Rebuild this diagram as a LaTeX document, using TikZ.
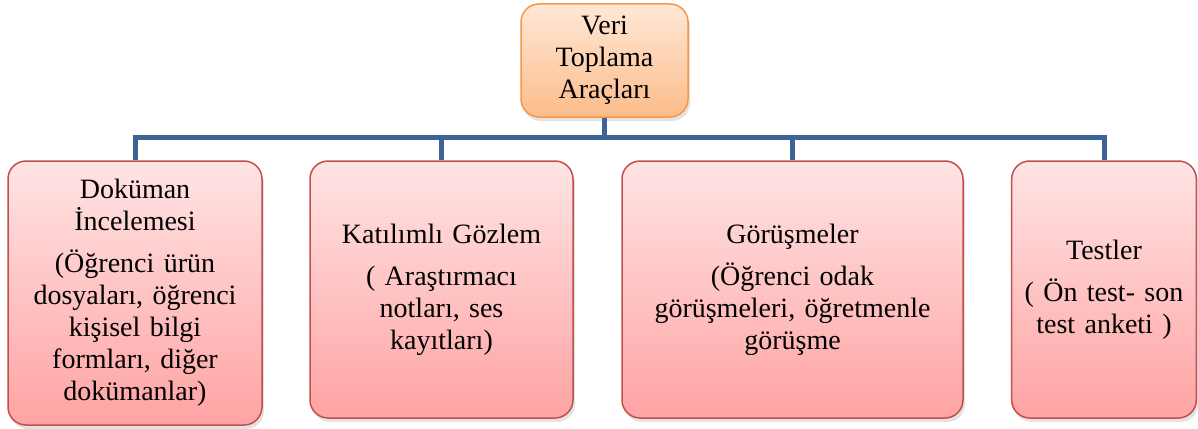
\documentclass[tikz,border=0pt]{standalone}
\usepackage{fontspec}
\setmainfont{Liberation Serif}
\usetikzlibrary{shadows}
\definecolor{linkblue}{RGB}{62,99,150}
\definecolor{orangeedge}{RGB}{247,150,70}
\definecolor{orangetop}{RGB}{255,232,214}
\definecolor{orangebot}{RGB}{252,188,138}
\definecolor{pinkedge}{RGB}{192,80,77}
\definecolor{pinktop}{RGB}{255,228,228}
\definecolor{pinkbot}{RGB}{255,163,163}
\begin{document}
\begin{tikzpicture}[x=1pt, y=-1pt, text=black,
  every node/.style={font=\fontsize{28}{32}\selectfont, align=center, rounded corners=18pt, line width=1.5pt,
    drop shadow={opacity=0.22, shadow xshift=2pt, shadow yshift=-4pt}},
  headbox/.style={draw=orangeedge, top color=orangetop, bottom color=orangebot},
  toolbox/.style={draw=pinkedge, top color=pinktop, bottom color=pinkbot},
  link/.style={draw=linkblue, line width=5pt}]
\useasboundingbox (0,0) rectangle (1198,428);

\node[headbox, minimum width=167pt, minimum height=113pt] (veri) at (604.5,60.5)
  {Veri\\Toplama\\Araçları};
\coordinate (hub) at (604.5,137);

\node[toolbox, minimum width=254pt, minimum height=264pt, text width=246pt] (dokuman) at (135,293)
  {Doküman\\İncelemesi\\[10pt](Öğrenci ürün\\dosyaları, öğrenci\\kişisel bilgi\\formları, diğer\\dokümanlar)};
\node[toolbox, minimum width=263pt, minimum height=257pt, text width=253pt] (gozlem) at (441.5,289.5)
  {Katılımlı Gözlem\\[10pt]( Araştırmacı\\notları, ses\\kayıtları)};
\node[toolbox, minimum width=341pt, minimum height=257pt, text width=331pt] (gorusme) at (792.5,289.5)
  {Görüşmeler\\[10pt](Öğrenci odak\\görüşmeleri, öğretmenle\\görüşme};
\node[toolbox, minimum width=184pt, minimum height=257pt, text width=178pt] (test) at (1104,289.5)
  {Testler\\[10pt]( Ön test- son\\test anketi )};

\draw[link] (veri.south) -- (hub);
\draw[link] (hub) -| (dokuman.north);
\draw[link] (hub) -| (gozlem.north);
\draw[link] (hub) -| (gorusme.north);
\draw[link] (hub) -| (test.north);

\end{tikzpicture}
\end{document}
